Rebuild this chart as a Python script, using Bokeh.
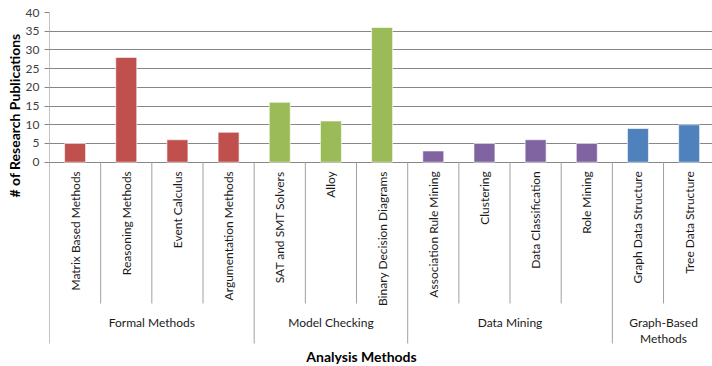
import math
from bokeh.plotting import figure
from bokeh.models import Range1d, FixedTicker, Title, ColumnDataSource
from bokeh.core.properties import value
from bokeh.embed import file_html
from bokeh.resources import INLINE

# ---- data ----
categories = ["Matrix Based Methods", "Reasoning Methods", "Event Calculus", "Argumentation Methods",
              "SAT and SMT Solvers", "Alloy", "Binary Decision Diagrams",
              "Association Rule Mining", "Clustering", "Data Classification", "Role Mining",
              "Graph Data Structure", "Tree Data Structure"]
publications = [5, 28, 6, 8, 16, 11, 36, 3, 5, 6, 5, 9, 10]
groups = ["Formal Methods", "Model Checking", "Data Mining", "Graph-Based\nMethods"]
group_sizes = [4, 3, 4, 2]
group_colors = ["#C0504D", "#9BBB59", "#8064A2", "#4F81BD"]
y_ticks = [0, 5, 10, 15, 20, 25, 30, 35, 40]
y_title = "# of Research Publications"
x_title = "Analysis Methods"

FONT = "Lato"

# derived
xs, colors = [], []
i = 0
for g, n in enumerate(group_sizes):
    for k in range(n):
        xs.append(i + 0.5)
        colors.append(group_colors[g])
        i += 1

cat_bounds, grp_bounds, grp_centers = [], [0], []
start = 0
for n in group_sizes:
    for k in range(1, n):
        cat_bounds.append(start + k)
    grp_centers.append(start + n / 2)
    start += n
    grp_bounds.append(start)

PX = 3.7425            # pixels per y unit
Y_MAX = 40
Y_BOTTOM = -(366 - 161.7) / PX
GRP_SEP = -(343 - 161.7) / PX
CAT_SEP = -(303 - 161.7) / PX
XT_Y = -(356 - 161.7) / PX
SLOT = 51.17

p = figure(width=712, height=366, output_backend="svg", toolbar_location=None,
           x_range=Range1d(0, 663 / SLOT), y_range=Range1d(Y_BOTTOM, Y_MAX),
           x_axis_location=None, min_border_left=49, min_border_right=0,
           min_border_top=12, min_border_bottom=0)
p.outline_line_color = None
p.background_fill_color = "white"
p.border_fill_color = "white"
p.xgrid.visible = False

p.yaxis.ticker = FixedTicker(ticks=y_ticks)
p.ygrid.ticker = FixedTicker(ticks=y_ticks)
p.ygrid.grid_line_color = "#868686"
p.ygrid.grid_line_width = 1
p.yaxis.axis_line_color = None
p.yaxis.major_tick_line_color = "#868686"
p.yaxis.major_tick_in = 0
p.yaxis.major_tick_out = 5
p.yaxis.minor_tick_line_color = None
p.yaxis.major_label_standoff = 5
p.yaxis.major_label_text_font = FONT
p.yaxis.major_label_text_font_size = "12px"
p.yaxis.major_label_text_color = "#404040"

src = ColumnDataSource(dict(x=xs, top=publications, color=colors, cat=categories))
p.vbar(x="x", top="top", bottom=0, width=0.41, fill_color="color", line_color="white",
       line_alpha=0.6, line_width=1, source=src)

p.text(x="x", y=0, text="cat", source=src, angle=math.pi / 2, text_align="right",
       text_baseline="middle", y_offset=9, text_font=value(FONT), text_font_size="12px",
       text_color="#1a1a1a")

p.segment(x0=cat_bounds, y0=[0] * len(cat_bounds), x1=cat_bounds, y1=[CAT_SEP] * len(cat_bounds),
          line_color="#a0a0a0", line_width=1)
p.segment(x0=grp_bounds[1:], y0=[0] * (len(grp_bounds) - 1), x1=grp_bounds[1:],
          y1=[GRP_SEP] * (len(grp_bounds) - 1), line_color="#a0a0a0", line_width=1)
# left axis line (runs down to the group separators)
p.segment(x0=[0], y0=[Y_MAX], x1=[0], y1=[GRP_SEP], line_color="#868686", line_width=1)

p.text(x=grp_centers, y=[CAT_SEP] * len(grp_centers), text=groups, text_align="center",
       text_baseline="top", y_offset=11, text_font=value(FONT), text_font_size="12px",
       text_color="#1a1a1a", text_line_height=1.1)

p.text(x=[(361 - 49) / SLOT], y=[XT_Y], text=[x_title], text_align="center",
       text_baseline="middle", text_font=value(FONT), text_font_size="14px",
       text_font_style="bold", text_color="#000000")

p.add_layout(Title(text=y_title, align="right", offset=21, standoff=0,
                   text_font=FONT, text_font_size="14px", text_font_style="bold",
                   text_color="#000000"), "left")

open("out.html", "w").write(file_html(p, INLINE))
